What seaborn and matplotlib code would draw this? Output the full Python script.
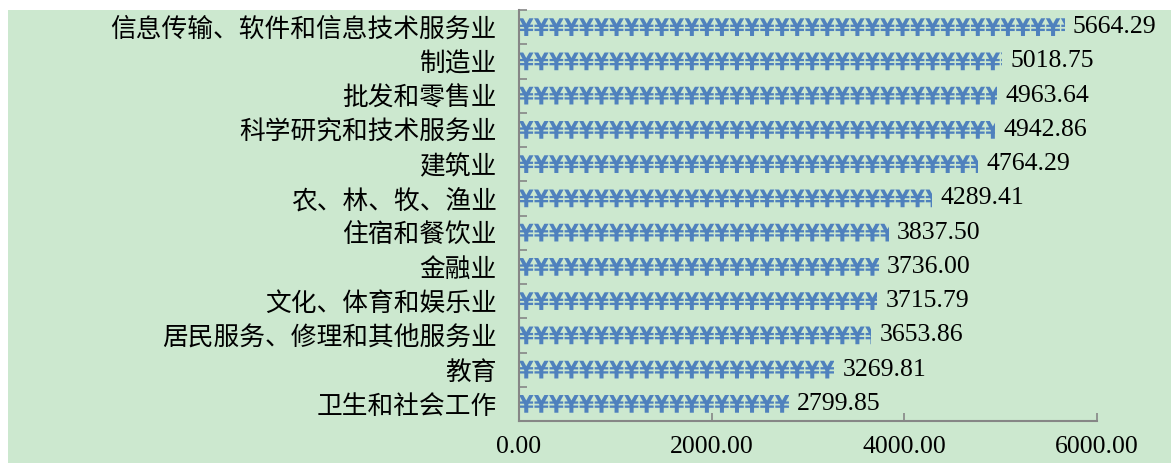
import matplotlib
matplotlib.use("Agg")
import matplotlib.pyplot as plt
import matplotlib.patches as mpatches
import matplotlib.transforms as mtransforms
from matplotlib.textpath import TextPath
from matplotlib.font_manager import FontProperties
import numpy as np
import pandas as pd
import seaborn as sns

# data (top to bottom)
industries = [
    "信息传输、软件和信息技术服务业",
    "制造业",
    "批发和零售业",
    "科学研究和技术服务业",
    "建筑业",
    "农、林、牧、渔业",
    "住宿和餐饮业",
    "金融业",
    "文化、体育和娱乐业",
    "居民服务、修理和其他服务业",
    "教育",
    "卫生和社会工作",
]
wages = [5664.29, 5018.75, 4963.64, 4942.86, 4764.29, 4289.41,
         3837.50, 3736.00, 3715.79, 3653.86, 3269.81, 2799.85]
x_ticks = [0, 2000, 4000, 6000]

BG = "#cce8cf"
BLUE = "#4f81bd"
GREY = "#868686"

sns.set_theme(style="white")
plt.rcParams['font.family'] = ['Noto Sans CJK SC', 'DejaVu Sans']

df = pd.DataFrame({"行业": industries, "工资": wages})

fig = plt.figure(figsize=(11.71, 4.63), dpi=100)
fig.patch.set_facecolor("white")
bg = mpatches.Rectangle((8 / 1171, 0), 1, (463 - 10) / 463,
                        transform=fig.transFigure,
                        facecolor=BG, edgecolor="none", zorder=-10)
fig.add_artist(bg)
ax = fig.add_axes([519 / 1171, 42 / 463, 578 / 1171, 411 / 463])
ax.set_facecolor(BG)

sns.barplot(data=df, x="工资", y="行业", orient="h", width=0.5,
            color=BLUE, ax=ax)

ax.set_xlim(0, 6000)
ax.set_ylim(len(industries) - 0.5, -0.5)

# fill every bar with repeated yen signs, clipped to the bar shape
yen_font = FontProperties(family="DejaVu Sans", weight="bold")
yen_path = TextPath((0, 0), "¥" * 45, size=17.5, prop=yen_font)
ext = yen_path.get_extents()
bars = list(ax.patches)
for bar in bars:
    bar.set_facecolor("none")
    bar.set_edgecolor("none")
    bar.set_height(0.56)
    bar.set_y(bar.get_y() - 0.03)
    yc = bar.get_y() + bar.get_height() / 2
    tr = (mtransforms.Affine2D().translate(-ext.x0, -(ext.y0 + ext.y1) / 2)
          .scale(fig.dpi / 72 * 0.89, fig.dpi / 72)
          + mtransforms.ScaledTranslation(bar.get_x(), yc, ax.transData))
    pp = mpatches.PathPatch(yen_path, transform=tr, facecolor=BLUE,
                            edgecolor="none")
    ax.add_artist(pp)
    pp.set_clip_path(bar)

for bar, v in zip(bars, wages):
    ax.annotate(f"{v:.2f}",
                (bar.get_x() + bar.get_width(), bar.get_y() + bar.get_height() / 2),
                xytext=(6, 0), textcoords="offset points",
                ha="left", va="center", fontsize=18.5,
                family="Liberation Serif", color="black")

ax.set_xticks(x_ticks)
ax.set_xticklabels([f"{t:.2f}" for t in x_ticks], family="Liberation Serif",
                   fontsize=18.5)
ax.set_yticks(np.arange(len(industries)))
ax.set_yticklabels(industries, fontsize=18.5)
ax.set_yticks(np.arange(len(industries) + 1) - 0.5, minor=True)
ax.tick_params(axis="y", which="major", length=0, pad=16, colors="black")
ax.tick_params(axis="y", which="minor", left=True, direction="in", length=6,
               width=1.2, color=GREY)
ax.tick_params(axis="x", bottom=True, direction="in", length=6, width=1.2,
               color=GREY, pad=11, labelcolor="black")
ax.set_xlabel("")
ax.set_ylabel("")
for side in ["top", "right"]:
    ax.spines[side].set_visible(False)
for side in ["left", "bottom"]:
    ax.spines[side].set_color(GREY)
    ax.spines[side].set_linewidth(1.5)

fig.savefig("out.png", dpi=100, facecolor=fig.get_facecolor())
